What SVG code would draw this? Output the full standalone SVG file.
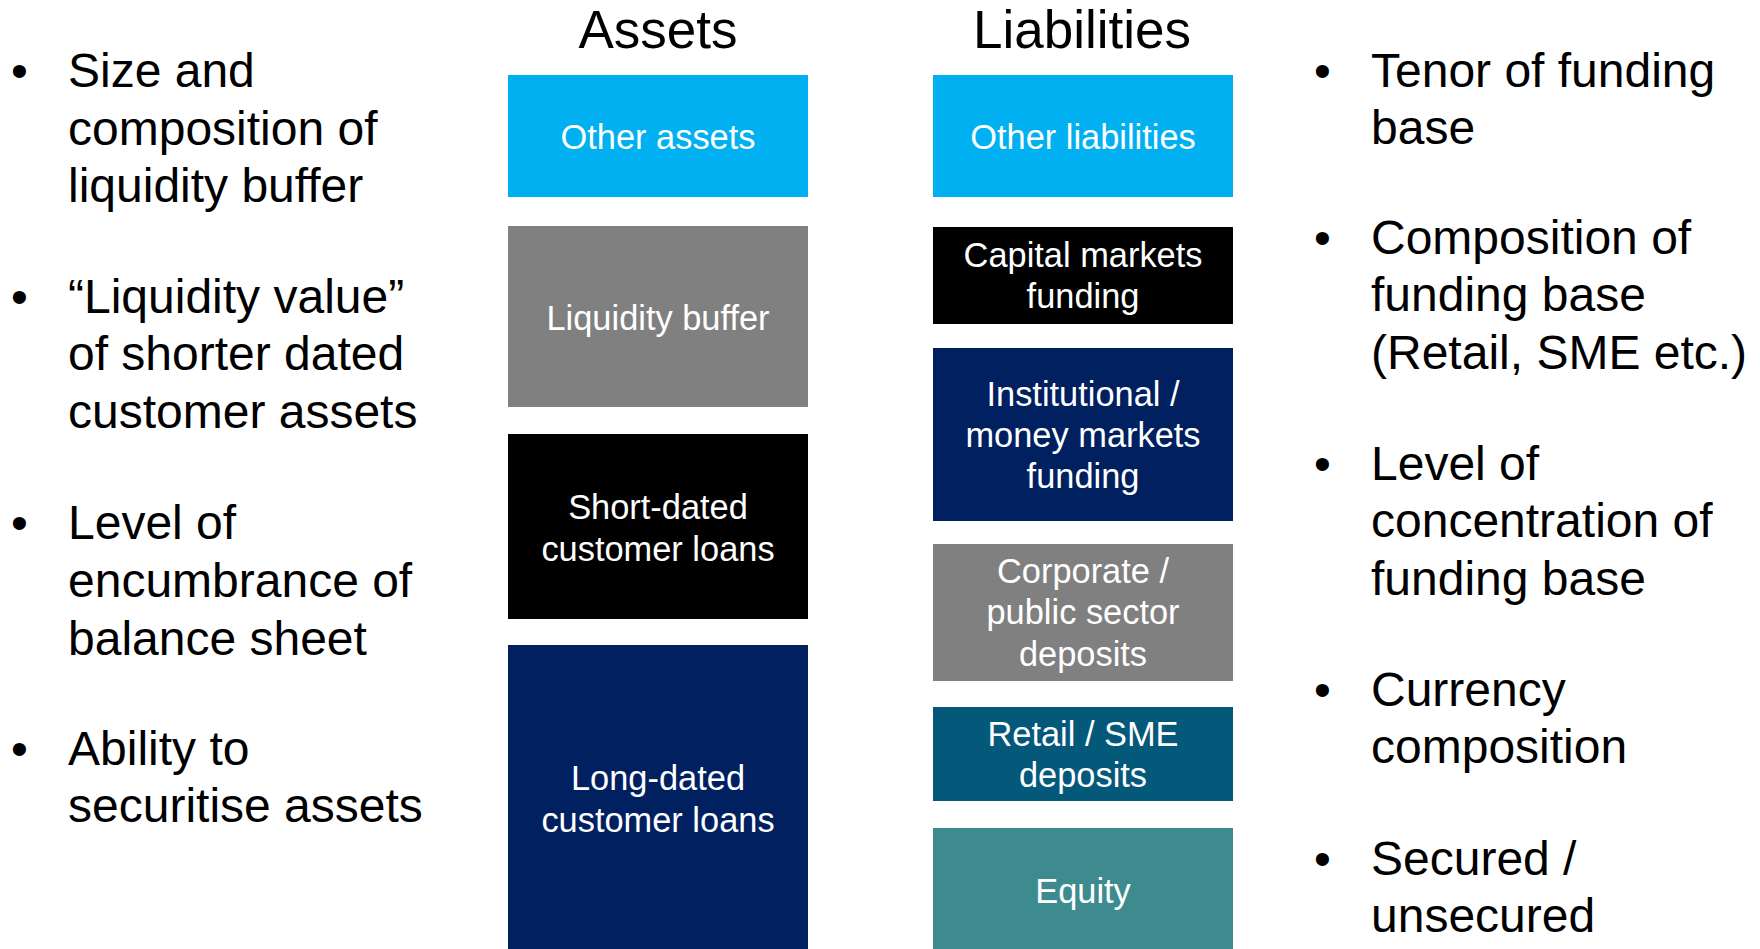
<svg xmlns="http://www.w3.org/2000/svg" width="1760" height="949" viewBox="0 0 1760 949">
  <style>
    text { font-family: "Liberation Sans", Arial, sans-serif; }
    .title { font-size: 53px; fill: #000; text-anchor: middle; }
    .bullet { font-size: 48px; fill: #000; }
    .lbl { font-size: 34.4px; fill: #fff; text-anchor: middle; }
  </style>
  <rect width="1760" height="949" fill="#fff"/>

  <!-- column headings -->
  <text class="title" x="658" y="48">Assets</text>
  <text class="title" x="1082" y="48">Liabilities</text>

  <!-- left-hand notes: asset side drivers -->
  <g id="asset-notes" class="bullet">
    <text x="11" y="87">•</text>
    <text x="68" y="87">Size and</text>
    <text x="68" y="145">composition of</text>
    <text x="68" y="202">liquidity buffer</text>

    <text x="11" y="313">•</text>
    <text x="68" y="313">“Liquidity value”</text>
    <text x="68" y="370">of shorter dated</text>
    <text x="68" y="428">customer assets</text>

    <text x="11" y="539">•</text>
    <text x="68" y="539">Level of</text>
    <text x="68" y="597">encumbrance of</text>
    <text x="68" y="655">balance sheet</text>

    <text x="11" y="765">•</text>
    <text x="68" y="765">Ability to</text>
    <text x="68" y="822">securitise assets</text>
  </g>

  <!-- asset blocks -->
  <g id="other-assets">
    <rect x="508" y="75" width="300" height="122" fill="#00B0F0"/>
    <text class="lbl" x="658" y="149">Other assets</text>
  </g>
  <g id="liquidity-buffer">
    <rect x="508" y="226" width="300" height="181" fill="#808080"/>
    <text class="lbl" x="658" y="330">Liquidity buffer</text>
  </g>
  <g id="short-dated-loans">
    <rect x="508" y="434" width="300" height="185" fill="#000000"/>
    <text class="lbl" x="658" y="519">Short-dated</text>
    <text class="lbl" x="658" y="561">customer loans</text>
  </g>
  <g id="long-dated-loans">
    <rect x="508" y="645" width="300" height="310" fill="#002060"/>
    <text class="lbl" x="658" y="790">Long-dated</text>
    <text class="lbl" x="658" y="832">customer loans</text>
  </g>

  <!-- liability blocks -->
  <g id="other-liabilities">
    <rect x="933" y="75" width="300" height="122" fill="#00B0F0"/>
    <text class="lbl" x="1083" y="149">Other liabilities</text>
  </g>
  <g id="capital-markets">
    <rect x="933" y="227" width="300" height="97" fill="#000000"/>
    <text class="lbl" x="1083" y="267">Capital markets</text>
    <text class="lbl" x="1083" y="308">funding</text>
  </g>
  <g id="institutional-funding">
    <rect x="933" y="348" width="300" height="173" fill="#002060"/>
    <text class="lbl" x="1083" y="406">Institutional /</text>
    <text class="lbl" x="1083" y="447">money markets</text>
    <text class="lbl" x="1083" y="488">funding</text>
  </g>
  <g id="corporate-deposits">
    <rect x="933" y="544" width="300" height="137" fill="#808080"/>
    <text class="lbl" x="1083" y="583">Corporate /</text>
    <text class="lbl" x="1083" y="624">public sector</text>
    <text class="lbl" x="1083" y="666">deposits</text>
  </g>
  <g id="retail-deposits">
    <rect x="933" y="707" width="300" height="94" fill="#04587A"/>
    <text class="lbl" x="1083" y="746">Retail / SME</text>
    <text class="lbl" x="1083" y="787">deposits</text>
  </g>
  <g id="equity">
    <rect x="933" y="828" width="300" height="127" fill="#3E8B8F"/>
    <text class="lbl" x="1083" y="903">Equity</text>
  </g>

  <!-- right-hand notes: funding side drivers -->
  <g id="funding-notes" class="bullet">
    <text x="1314" y="87">•</text>
    <text x="1371" y="87">Tenor of funding</text>
    <text x="1371" y="144">base</text>

    <text x="1314" y="254">•</text>
    <text x="1371" y="254">Composition of</text>
    <text x="1371" y="311">funding base</text>
    <text x="1371" y="369">(Retail, SME etc.)</text>

    <text x="1314" y="480">•</text>
    <text x="1371" y="480">Level of</text>
    <text x="1371" y="537">concentration of</text>
    <text x="1371" y="595">funding base</text>

    <text x="1314" y="706">•</text>
    <text x="1371" y="706">Currency</text>
    <text x="1371" y="763">composition</text>

    <text x="1314" y="875">•</text>
    <text x="1371" y="875">Secured /</text>
    <text x="1371" y="932">unsecured</text>
  </g>

  <!-- no connectors in this figure -->
  <g id="connectors"/>
</svg>
